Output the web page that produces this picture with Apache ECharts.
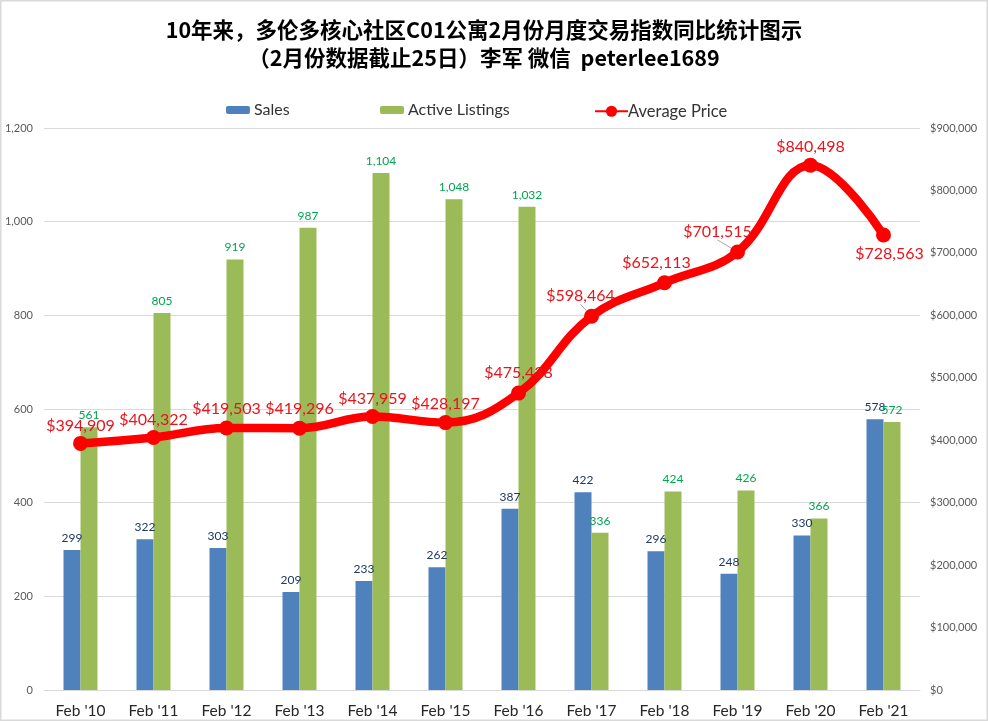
<!DOCTYPE html>
<html><head><meta charset="utf-8">
<style>html,body{margin:0;padding:0;background:#fff}#c{width:988px;height:721px}</style>
<script src="https://cdn.jsdelivr.net/npm/echarts@6/dist/echarts.min.js"></script>
</head><body><div id="c"></div>
<script>
const categories = ["Feb '10","Feb '11","Feb '12","Feb '13","Feb '14","Feb '15","Feb '16","Feb '17","Feb '18","Feb '19","Feb '20","Feb '21"];
const sales = [299,322,303,209,233,262,387,422,296,248,330,578];
const activeListings = [561,805,919,987,1104,1048,1032,336,424,426,366,572];
const averagePrice = [394909,404322,419503,419296,437959,428197,475438,598464,652113,701515,840498,728563];
const priceLabelShift = [[0,-18],[0,-18],[0,-19],[0,-19],[0,-18],[0,-19],[0,-20],[-11,-20],[-8,-20],[-20,-20],[0,-18],[6,19]];
const leaderIndexes = [7,9];
const titleLines = ["10年来，多伦多核心社区C01公寓2月份月度交易指数同比统计图示","（2月份数据截止25日）李军 微信  peterlee1689"];
const fmt = n => n.toLocaleString('en-US');
const font = 'Lato, "Noto Sans CJK SC", sans-serif';
const chart = echarts.init(document.getElementById('c'), null, {renderer:'canvas'});
chart.setOption({
  animation:false,
  backgroundColor:'#fff',
  graphic:[{type:'rect',shape:{x:0.5,y:0.5,width:987,height:720},style:{fill:'none',stroke:'#d9d9d9',lineWidth:2},silent:true}],
  title:{text:titleLines.join('\n'),left:479,top:11,textAlign:'center',
    textStyle:{fontFamily:'"Noto Sans CJK SC", sans-serif',fontSize:21.5,fontWeight:'bold',color:'#000',lineHeight:28}},
  legend:[
    {data:['Sales'],left:226,top:102,padding:0,itemWidth:24,itemHeight:8,itemGap:0,textStyle:{fontFamily:font,fontSize:16,color:'#333',padding:[0,0,0,-1]}},
    {data:['Active Listings'],left:380,top:102,padding:0,itemWidth:24,itemHeight:8,itemGap:0,textStyle:{fontFamily:font,fontSize:16,color:'#333',padding:[0,0,0,-1]}},
    {data:['Average Price'],left:594,top:103,padding:0,itemWidth:33,itemHeight:14,itemGap:0,textStyle:{fontFamily:font,fontSize:16.5,color:'#333',padding:[0,0,0,-5]}}
  ],
  grid:{left:44,right:68,top:128,bottom:31,containLabel:false},
  xAxis:{type:'category',data:categories,axisTick:{show:false},
    axisLine:{lineStyle:{color:'#d9d9d9'}},
    axisLabel:{fontFamily:font,fontSize:15.5,color:'#262626',margin:13}},
  yAxis:[
    {type:'value',min:0,max:1200,interval:200,axisLine:{show:false},axisTick:{show:false},
      splitLine:{lineStyle:{color:'#d9d9d9'}},
      axisLabel:{fontFamily:font,fontSize:11,color:'#595959',margin:11,formatter:v=>fmt(v)}},
    {type:'value',min:0,max:900000,interval:100000,position:'right',axisLine:{show:false},axisTick:{show:false},
      splitLine:{show:false},
      axisLabel:{fontFamily:font,fontSize:11,color:'#595959',margin:10,formatter:v=>'$'+fmt(v)}}
  ],
  series:[
    {name:'Sales',type:'bar',data:sales,barWidth:17,barGap:0,itemStyle:{color:'#4f81bd'},
      label:{show:true,position:'top',distance:6,fontFamily:font,fontSize:12,color:'#1f3864',formatter:p=>fmt(p.value)}},
    {name:'Active Listings',type:'bar',data:activeListings,barWidth:17,itemStyle:{color:'#9bbb59'},
      label:{show:true,position:'top',distance:6,fontFamily:font,fontSize:12,color:'#00a650',formatter:p=>fmt(p.value)}},
    {name:'Average Price',type:'line',yAxisIndex:1,smooth:0.4,symbol:'circle',symbolSize:15,z:5,
      data:averagePrice.map((v,i)=> leaderIndexes.includes(i) ? {value:v,labelLine:{show:true,lineStyle:{color:'#a6a6a6',width:1}}} : v),
      lineStyle:{color:'#ff0000',width:8.5},itemStyle:{color:'#ff0000'},
      label:{show:true,position:'inside',fontFamily:font,fontSize:16,color:'#e8141c',formatter:p=>'$'+fmt(p.value)},
      labelLayout:p=>{const s=priceLabelShift[p.dataIndex];return {dx:s[0],dy:s[1]};}}
  ]
});
</script></body></html>
